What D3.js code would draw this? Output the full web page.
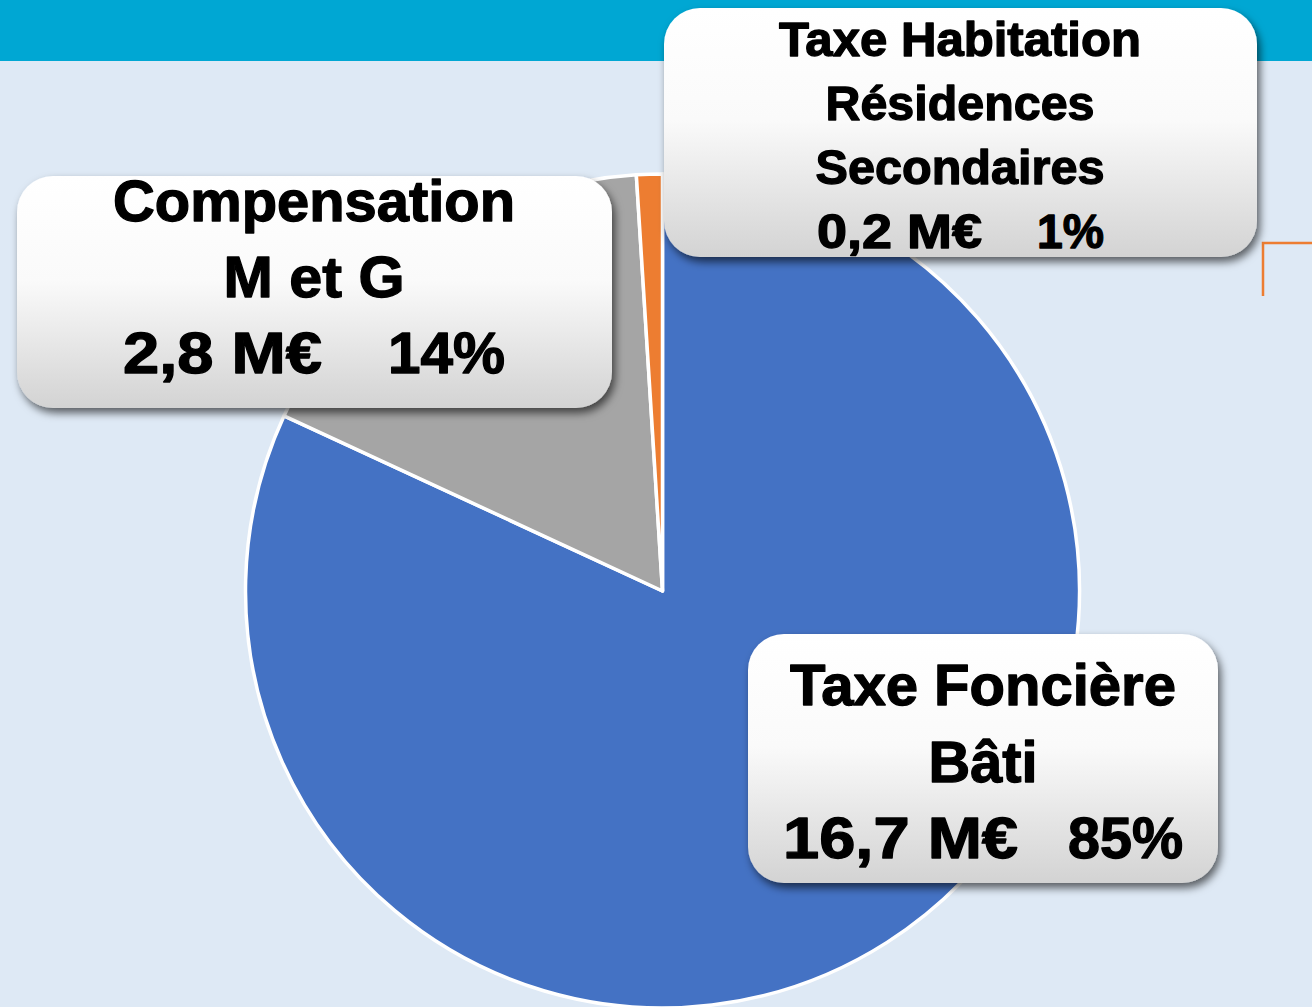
<!DOCTYPE html>
<html><head><meta charset="utf-8">
<script src="https://cdn.jsdelivr.net/npm/d3@7"></script>
<style>html,body{margin:0;padding:0;background:#dee9f5;overflow:hidden}</style>
</head><body>
<svg id="c" width="1312" height="1007"></svg>
<script>
// Data
const categories = ["Taxe Foncière Bâti", "Compensation M et G", "Taxe Habitation Résidences Secondaires"];
const amounts = ["16,7 M€", "2,8 M€", "0,2 M€"];
const percents = ["85%", "14%", "1%"];
// share of the disc each slice occupies in the drawing (%)
const sliceShares = [81.9, 17.1, 1.0];
const labelLines = [
  ["Taxe Foncière", "Bâti"],
  ["Compensation", "M et G"],
  ["Taxe Habitation", "Résidences", "Secondaires"]
];
const colors = ["#4472c4", "#a5a5a5", "#ed7d31"];

const svg = d3.select("#c");
const W = 1312, H = 1007;

const defs = svg.append("defs");
const grad = defs.append("linearGradient").attr("id", "boxg").attr("x1", 0).attr("y1", 0).attr("x2", 0).attr("y2", 1);
grad.append("stop").attr("offset", "0%").attr("stop-color", "#ffffff");
grad.append("stop").attr("offset", "45%").attr("stop-color", "#fafafa");
grad.append("stop").attr("offset", "100%").attr("stop-color", "#d3d3d3");
const flt = defs.append("filter").attr("id", "sh").attr("x", "-10%").attr("y", "-10%").attr("width", "125%").attr("height", "130%");
flt.append("feDropShadow").attr("dx", 3).attr("dy", 5).attr("stdDeviation", 4)
  .attr("flood-color", "#000").attr("flood-opacity", 0.6);

svg.append("rect").attr("width", W).attr("height", H).attr("fill", "#dee9f5");
svg.append("rect").attr("width", W).attr("height", 61).attr("fill", "#00a7d3");

// Pie
const cx = 662.5, cy = 591, R = 417;
const pie = d3.pie().sort(null).value(d => d).startAngle(0).endAngle(2 * Math.PI);
const arc = d3.arc().innerRadius(0).outerRadius(R);
const g = svg.append("g").attr("transform", `translate(${cx},${cy})`);
g.selectAll("path").data(pie(sliceShares)).join("path")
  .attr("d", arc)
  .attr("fill", (d, i) => colors[i])
  .attr("stroke", "#ffffff")
  .attr("stroke-width", 3.5)
  .attr("stroke-linejoin", "round");

// orange corner mark at right edge
svg.append("path").attr("d", "M1263,296 V243 H1312")
  .attr("fill", "none").attr("stroke", "#ed7d31").attr("stroke-width", 2.5);

// Label boxes (layout)
const boxes = [
  { x: 748, y: 634, w: 470, h: 249, cx: 983, fs: 58, base: [705, 782, 858],
    widths: [386, 109], amt: [783, 235], pct: [1068, 115] },
  { x: 17, y: 176, w: 595, h: 232, cx: 314, fs: 58, base: [221, 297, 373],
    widths: [402, 181], amt: [123, 199], pct: [388, 117] },
  { x: 664, y: 8, w: 593, h: 249, cx: 960, fs: 48, base: [56, 120, 184, 248],
    widths: [362, 269, 289], amt: [817, 165], pct: [1037, 67] }
];

function addText(sel, x, y, anchor, fs, len, t) {
  sel.append("text")
    .attr("x", x).attr("y", y)
    .attr("text-anchor", anchor)
    .attr("font-family", "'Liberation Sans', Arial, sans-serif")
    .attr("font-weight", "bold")
    .attr("font-size", fs)
    .attr("fill", "#000")
    .attr("stroke", "#000")
    .attr("stroke-width", 1.3)
    .attr("stroke-linejoin", "round")
    .attr("textLength", len)
    .attr("lengthAdjust", "spacingAndGlyphs")
    .text(t);
}

boxes.forEach((b, i) => {
  const bg = svg.append("g");
  bg.append("rect").attr("x", b.x).attr("y", b.y).attr("width", b.w).attr("height", b.h)
    .attr("rx", 36).attr("ry", 36).attr("fill", "url(#boxg)").attr("filter", "url(#sh)");
  const lines = labelLines[i];
  lines.forEach((t, j) => addText(bg, b.cx, b.base[j], "middle", b.fs, b.widths[j], t));
  const yb = b.base[lines.length];
  addText(bg, b.amt[0], yb, "start", b.fs, b.amt[1], amounts[i]);
  addText(bg, b.pct[0], yb, "start", b.fs, b.pct[1], percents[i]);
});
</script>
</body></html>
